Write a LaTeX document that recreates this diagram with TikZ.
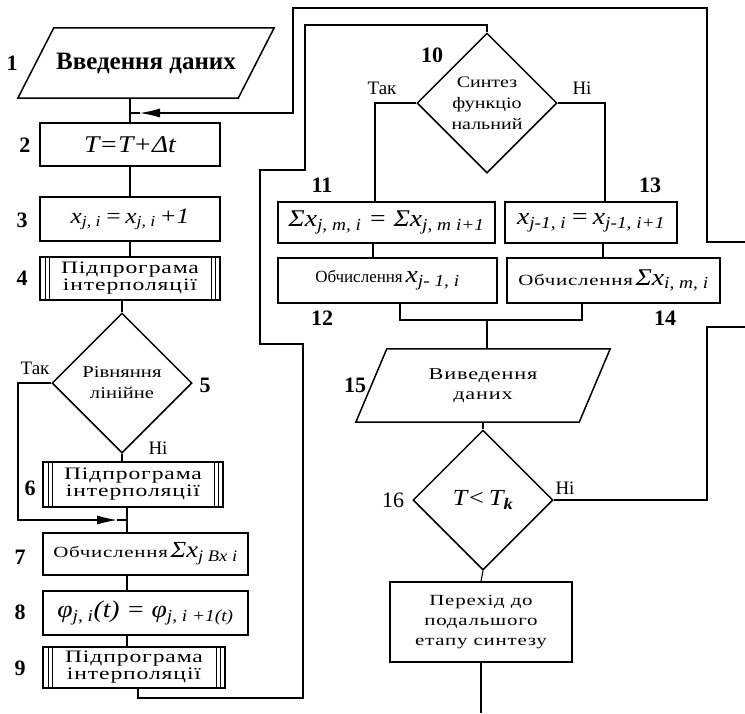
\documentclass[tikz,border=0pt]{standalone}
\usepackage{fontspec}
\setmainfont{Liberation Serif}
\newfontfamily\widefont[FakeStretch=1.35,LetterSpace=5]{Liberation Serif}
\newfontfamily\semiwide[FakeStretch=1.25]{Liberation Serif}
\newfontfamily\frmfont[FakeStretch=1.15]{Liberation Serif}
\usetikzlibrary{shapes.geometric,arrows.meta,calc}
\newcommand\sbs[1]{\textsubscript{#1}}
\newcommand\txt{\fontsize{16}{19}\selectfont}
\newcommand\frmsize[1]{\fontsize{#1}{#1}\selectfont\frmfont\itshape}
\begin{document}
\begin{tikzpicture}[x=1pt,y=-1pt,
  box/.style={draw, line width=1.5pt, inner sep=0pt, align=center, font=\txt},
  sub/.style={box, font=\fontsize{17.5}{17}\selectfont\widefont,
    path picture={
      \draw[line width=1pt] ([xshift=5pt]path picture bounding box.north west) -- ([xshift=5pt]path picture bounding box.south west);
      \draw[line width=1pt] ([xshift=9pt]path picture bounding box.north west) -- ([xshift=9pt]path picture bounding box.south west);
      \draw[line width=1pt] ([xshift=-5pt]path picture bounding box.north east) -- ([xshift=-5pt]path picture bounding box.south east);
      \draw[line width=1pt] ([xshift=-9pt]path picture bounding box.north east) -- ([xshift=-9pt]path picture bounding box.south east);
    }},
  dec/.style={diamond, draw, line width=1.5pt, minimum width=140pt, minimum height=140pt, inner sep=-15pt, align=center},
  io/.style={inner sep=0pt, align=center},
  conn/.style={line width=1.1pt},
  arr/.style={conn, -{Latex[length=20pt,width=9pt]}},
  num/.style={font=\fontsize{22}{22}\selectfont\bfseries},
  yn/.style={font=\fontsize{19}{19}\selectfont}
]
\useasboundingbox (0,0) rectangle (745,713);

% ---- left column ----
\node[io, minimum width=220pt, minimum height=70pt, font=\fontsize{25}{26}\selectfont\bfseries] (b1) at (146,63) {Введення даних};
\draw[line width=1.5pt] ([xshift=18pt]b1.north west) -- ([xshift=18pt]b1.north east) -- ([xshift=-18pt]b1.south east) -- ([xshift=-18pt]b1.south west) -- cycle;

\node[box, minimum width=180pt, minimum height=43pt, font=\frmsize{24}] (b2) at (130,144.5) {T=T+Δt};
\node[box, minimum width=180pt, minimum height=44pt, font=\frmsize{22}] (b3) at (130,219) {x\sbs{j, i}\,=\,x\sbs{j, i}\,+1};
\node[sub, minimum width=180pt, minimum height=43pt] (b4) at (130,278.5) {Підпрограма\\інтерполяції};
\node[dec, font=\fontsize{16.5}{21}\selectfont\semiwide] (d5) at (122,383) {Рівняння\\лінійне};
\node[sub, minimum width=180pt, minimum height=45pt] (b6) at (133,484.5) {Підпрограма\\інтерполяції};
\node[box, minimum width=205pt, minimum height=42pt, font=\fontsize{15.5}{18}\selectfont\widefont] (b7) at (145.5,554) {Обчислення\,{\frmsize{23}Σx\sbs{j Bx i}}};
\node[box, minimum width=205pt, minimum height=44pt, font=\frmsize{24}] (b8) at (145.5,613) {φ\sbs{j, i}(t)\;=\;φ\sbs{j, i +1(t)}};
\node[sub, minimum width=182pt, minimum height=41pt] (b9) at (134,667.5) {Підпрограма\\інтерполяції};

% ---- right column ----
\node[dec, font=\fontsize{16}{21}\selectfont\semiwide] (d10) at (487,103) {Синтез\\функціо\\нальний};
\node[box, minimum width=217pt, minimum height=41pt, font=\frmsize{24}] (b11) at (386.5,222.5) {Σx\sbs{j, m, i}\;=\;Σx\sbs{j, m i+1}};
\node[box, minimum width=172pt, minimum height=41pt, font=\frmsize{24}] (b13) at (591,222.5) {x\sbs{j-1, i}\,=\,x\sbs{j-1, i+1}};
\node[box, minimum width=219pt, minimum height=45pt, font=\fontsize{17}{18}\selectfont] (b12) at (387.5,280.5) {Обчислення\,{\frmsize{24}x\sbs{j- 1, i}}};
\node[box, minimum width=213pt, minimum height=45pt, font=\fontsize{15.5}{18}\selectfont\widefont] (b14) at (613.5,280.5) {Обчислення\,{\frmsize{24}Σx\sbs{i, m, i}}};
\node[io, minimum width=223pt, minimum height=73pt, font=\fontsize{16.5}{20}\selectfont\widefont] (b15) at (483,385.5) {Виведення\\даних};
\draw[line width=1.5pt] ([xshift=15.5pt]b15.north west) -- ([xshift=15.5pt]b15.north east) -- ([xshift=-15.5pt]b15.south east) -- ([xshift=-15.5pt]b15.south west) -- cycle;
\node[dec, font=\frmsize{23}] (d16) at (483,500) {T<\,T\sbs{\bfseries k}};
\node[box, minimum width=182pt, minimum height=80pt, font=\fontsize{15.5}{20}\selectfont\widefont] (b17) at (481,622) {Перехід до\\подальшого\\етапу синтезу};

% ---- numbers ----
\node[num] at (12,63) {1};
\node[num] at (25,145) {2};
\node[num] at (22,220) {3};
\node[num] at (22,278) {4};
\node[num] at (205,385) {5};
\node[num] at (30,488) {6};
\node[num] at (20,557) {7};
\node[num] at (20,612) {8};
\node[num] at (20,668) {9};
\node[num] at (432,55) {10};
\node[num] at (322,185) {11};
\node[num] at (322,318) {12};
\node[num] at (650,185) {13};
\node[num] at (665,318) {14};
\node[num] at (355,385) {15};
\node[num, font=\fontsize{22}{22}\selectfont] at (393,500) {16};

\node[yn] at (35,368) {Так};
\node[yn] at (158,448) {Ні};
\node[yn] at (382,88) {Так};
\node[yn] at (582,88) {Ні};
\node[yn] at (565,488) {Ні};

% ---- connectors left ----
\coordinate (j1) at (130,113);
\coordinate (j1a) at (140,113);
\draw[conn] (b2.north |- b1.south) -- (b2.north);
\draw[conn] (b2.south) -- (b3.north);
\draw[conn] (b3.south) -- (b4.north);
\draw[conn] (d5.north |- b4.south) -- (d5.north);
\draw[conn] (d5.south) -- (d5.south |- b6.north);
\coordinate (j2) at (127,520);
\coordinate (j2a) at (117,520);
\draw[conn] (j2 |- b6.south) -- (j2 |- b7.north);
\draw[arr] (d5.west) -- (18,383) -- (18,520) -- (j2a);
\draw[conn] (j2a) -- (j2);
\draw[conn] (j2 |- b7.south) -- (j2 |- b8.north);
\draw[conn] (j2 |- b8.south) -- (j2 |- b9.north);

% ---- main loop from 9 to 10 ----
\draw[conn] (138,688) -- (138,698) -- (303,698) -- (303,344) -- (260,344) -- (260,170) -- (305,170) -- (305,25) -- (487,25) -- (d10.north);

% ---- branches of 10 ----
\draw[conn] (d10.west) -- (375,103) -- (375,202);
\draw[conn] (d10.east) -- (605,103) -- (605,202);
\draw[conn] (373,243) -- (373,258);
\draw[conn] (603,243) -- (603,258);
\draw[conn] (400,303) -- (400,320) -- (582,320) -- (582,303);
\draw[conn] (487,320) -- (487,349);
\draw[conn] (b15.south) -- (d16.north);
\draw[conn] (d16.south) -- (b17.north);
\draw[conn] (b17.south) -- (481,713);

% ---- return loop from 16 ----
\draw[conn] (d16.east) -- (707,500) -- (707,327) -- (745,327);
\draw[arr] (745,242) -- (707,242) -- (707,8) -- (293,8) -- (293,113) -- (j1a);
\draw[conn] (j1a) -- (j1);
\end{tikzpicture}
\end{document}
